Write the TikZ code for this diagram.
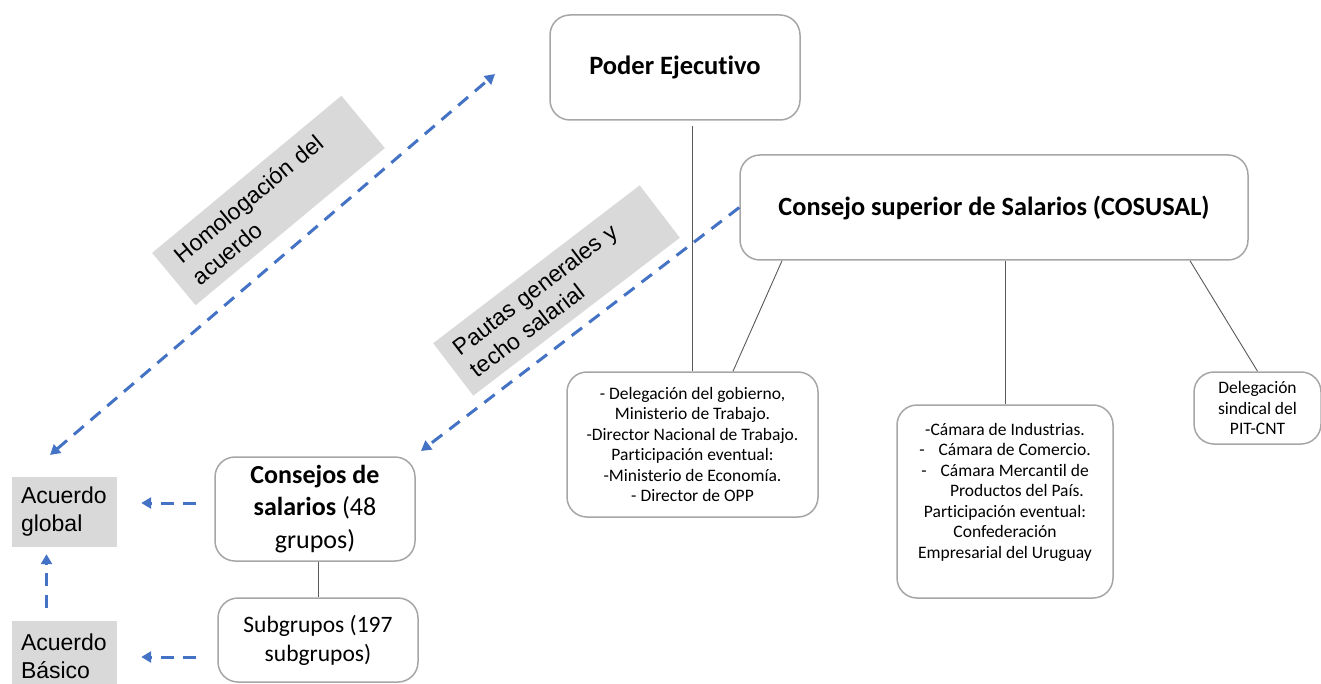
\documentclass[tikz,border=0pt]{standalone}
\usepackage{fontspec}
\setmainfont{Carlito}[Ligatures=NoCommon]
\newfontfamily\arialf{Liberation Sans}
\usetikzlibrary{arrows.meta}
\definecolor{arrblue}{HTML}{4472C4}
\definecolor{boxgray}{HTML}{D9D9D9}
\definecolor{bordergray}{HTML}{A6A6A6}
\definecolor{linegray}{HTML}{595959}
\tikzset{
  rbox/.style={draw=bordergray, line width=1.5pt, rounded corners=20pt, fill=white, align=center, inner sep=0pt},
  gbox/.style={fill=boxgray, align=left, inner sep=0pt, font=\arialf\fontsize{23}{28}\selectfont},
  smalltext/.style={font=\fontsize{17.5}{20.5}\selectfont},
  conn/.style={draw=linegray, line width=0.9pt},
  darr/.style={draw=arrblue, line width=3pt, dash pattern=on 13pt off 9pt, -{Triangle[length=10pt,width=11pt]}},
  ddarr/.style={draw=arrblue, line width=3pt, dash pattern=on 13pt off 9pt, {Triangle[length=10pt,width=11pt]}-{Triangle[length=10pt,width=11pt]}},
}
\begin{document}
\begin{tikzpicture}[x=1pt,y=-1pt]
\useasboundingbox (0,0) rectangle (1321,684);
% main boxes
\node[rbox, minimum width=250pt, minimum height=105pt, font=\bfseries\fontsize{26.5}{30}\selectfont] (pe) at (675,67.5) {Poder Ejecutivo};
\node[rbox, minimum width=508pt, minimum height=105pt, font=\bfseries\fontsize{26.3}{30}\selectfont] (cos) at (994,207.5) {Consejo superior de Salarios (COSUSAL)};
\node[rbox, smalltext, minimum width=251pt, minimum height=145pt] (gov) at (692.5,444.5) {- Delegación del gobierno,\\ Ministerio de Trabajo.\\ -Director Nacional de Trabajo.\\ Participación eventual:\\ -Ministerio de Economía.\\ - Director de OPP};
\node[rbox, minimum width=216pt, minimum height=193pt] (cam) at (1005,501.5) {};
\node[align=center, inner sep=0pt, smalltext] (camt) at (1005,492) {-Cámara de Industrias.\\ -\hspace{14pt}Cámara de Comercio.\\ -\hspace{14pt}Cámara Mercantil de\\ \hspace*{24pt}Productos del País.\\ Participación eventual:\\ Confederación\\ Empresarial del Uruguay};
\node[rbox, smalltext, minimum width=127pt, minimum height=72pt] (pit) at (1257.5,408) {Delegación\\ sindical del\\ PIT-CNT};
\node[rbox, minimum width=200pt, minimum height=104pt, font=\fontsize{26}{32.5}\selectfont] (cons) at (315,509) {\textbf{Consejos de}\\ \textbf{salarios} (48\\ grupos)};
\node[rbox, minimum width=200pt, minimum height=84pt, font=\fontsize{23.5}{29}\selectfont] (sub) at (318,640) {Subgrupos (197\\ subgrupos)};
% gray boxes
\node[gbox, minimum width=105pt, minimum height=70pt, text width=87pt] (glob) at (64.5,512) {Acuerdo\\ global};
\node[gbox, minimum width=105pt, minimum height=70pt, text width=87pt] (bas) at (64.5,656) {Acuerdo\\ Básico};
\node[gbox, rotate=39.7, minimum width=246pt, minimum height=68pt, text width=214pt] (hom) at (268.5,200.5) {Homologación del\\ acuerdo};
\node[gbox, rotate=37.4, minimum width=260pt, minimum height=66pt, text width=232pt] (pau) at (556.5,290.5) {Pautas generales y\\ techo salarial};
% connectors
\draw[conn] (pe.south -| gov.north) ++(0,5) -- (gov.north);
\draw[conn] ([xshift=-212pt]cos.south) -- ([xshift=40.5pt]gov.north);
\draw[conn] (cos.south -| cam.north) -- (cam.north);
\draw[conn] ([xshift=196pt]cos.south) -- (pit.north);
\draw[conn] (cons.south -| sub.north) -- (sub.north);
% dashed arrows
\coordinate (h1) at (50,455);
\coordinate (h2) at (495,74);
\draw[ddarr] (h1) -- (h2);
\coordinate (p2) at (421,451);
\draw[darr] (cos.west) -- (p2);
\draw[darr] ([xshift=-18pt,yshift=6pt]cons.west) -- ([xshift=24pt,yshift=9pt]glob.east);
\draw[darr] ([xshift=-21pt,yshift=-17pt]sub.west) -- ([xshift=24pt,yshift=-1pt]bas.east);
\draw[darr] ([xshift=-18pt,yshift=13pt]bas.north) -- ([xshift=-18pt,yshift=-7pt]glob.south);
\end{tikzpicture}
\end{document}
